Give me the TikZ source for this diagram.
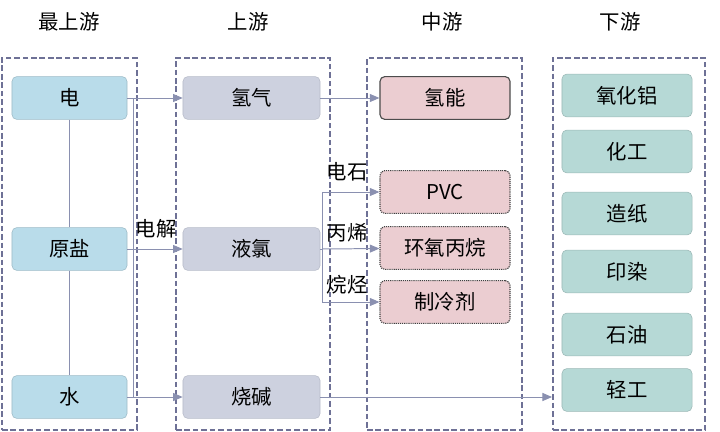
\documentclass[tikz,border=0pt]{standalone}
\usepackage{fontspec}
\setmainfont{Noto Sans CJK SC}
\usepackage{xcolor}
\usetikzlibrary{
    arrows.meta,
    positioning,
    calc
}
\definecolor{framec}{HTML}{6E7196}
\definecolor{linec}{HTML}{8A90B0}
\definecolor{bluec}{HTML}{B9DCEA}
\definecolor{greyc}{HTML}{CDD1DF}
\definecolor{pinkc}{HTML}{EBCDD1}
\definecolor{tealc}{HTML}{B6D9D6}

\begin{document}
\begin{tikzpicture}[x=0.025cm, y=-0.025cm,
        font=\fontsize{14.5}{16}\selectfont,
        group/.style={draw=framec, line width=1.3pt, dash pattern=on 4pt off 2pt,
            minimum width=#1, minimum height=9.3cm, inner sep=0pt},
        box/.style={rounded corners=1.2mm, minimum height=1.07cm, inner sep=0pt},
        src/.style={box, fill=bluec, draw=bluec!85!black, minimum width=2.875cm},
        up/.style={box, fill=greyc, draw=greyc!90!black, minimum width=3.425cm},
        mid/.style={box, fill=pinkc, minimum width=3.25cm, line width=0.8pt},
        dotline/.style={draw=black!75, dash pattern=on 0.8pt off 0.7pt},
        down/.style={box, fill=tealc, draw=tealc!85!black, minimum width=3.25cm},
        conn/.style={draw=linec, line width=0.7pt},
        arr/.style={conn, -{Triangle[length=2.4mm, width=2mm]}}]
    \useasboundingbox (0, 0) rectangle (720, 432);
    % column frames
    \node[group=3.375cm] (g1) at (69.5, 244) {};
    \node[group=3.85cm] (g2) at (253, 244) {};
    \node[group=3.875cm] (g3) at (444.5, 244) {};
    \node[group=3.8cm] (g4) at (629, 244) {};
    \foreach \name/\x/\txt in {h1/69/最上游, h2/248/上游, h3/442/中游, h4/620/下游} {
        \node (\name) at (\x, 22) {\txt};
    }
    % sources
    \node[src] (dian) at (69.5, 98) {电};
    \node[src] (yuanyan) at (69.5, 249) {原盐};
    \node[src] (shui) at (69.5, 397) {水};
    % upstream
    \node[up] (qingqi) at (251.5, 98) {氢气};
    \node[up] (yelv) at (251.5, 249) {液氯};
    \node[up] (shaojian) at (251.5, 397) {烧碱};
    % midstream
    \node[mid, draw=black!70] (qingneng) at (445, 98) {氢能};
    \node[mid, dotline] (pvc) at (445, 192) {PVC};
    \node[mid, dotline] (hyby) at (445, 248) {环氧丙烷};
    \node[mid, dotline] (zlj) at (445, 302) {制冷剂};
    % downstream
    \foreach \name/\y/\txt in {yhl/95.5/氧化铝, hg/151.5/化工, zz/213.5/造纸, yr/271.5/印染, sy/334.5/石油, qg/390/轻工} {
        \node[down] (\name) at (627, \y) {\txt};
    }
    \coordinate (busT) at (133, 98);
    \coordinate (busB) at (133, 397);
    \coordinate (brT) at (322, 192);
    \coordinate (brB) at (322, 302);
    \draw[conn] (dian) -- (yuanyan) -- (shui);
    \draw[conn] (dian) -- (busT) -- (busB);
    \draw[arr] (busT) -- (qingqi);
    \draw[arr] (shui) -- (shaojian);
    \draw[arr] (yuanyan) -- (yelv);
    \node (jiedian) at (156, 229) {电解};
    \draw[arr] (qingqi) -- (qingneng);
    \draw[conn] (yelv.east) -- (yelv.east -| brT);
    \draw[conn] (brT) -- (brB);
    \draw[arr] (brT) -- (pvc);
    \draw[arr] (yelv.east -| brT) -- (hyby);
    \draw[arr] (brB) -- (zlj);
    \node (dianshi) at (347, 172) {电石};
    \node (bingxi) at (347, 233) {丙烯};
    \node (wanting) at (347, 285) {烷烃};
    \draw[arr] (shaojian) -- (shaojian -| g4.west);
\end{tikzpicture}
\end{document}
